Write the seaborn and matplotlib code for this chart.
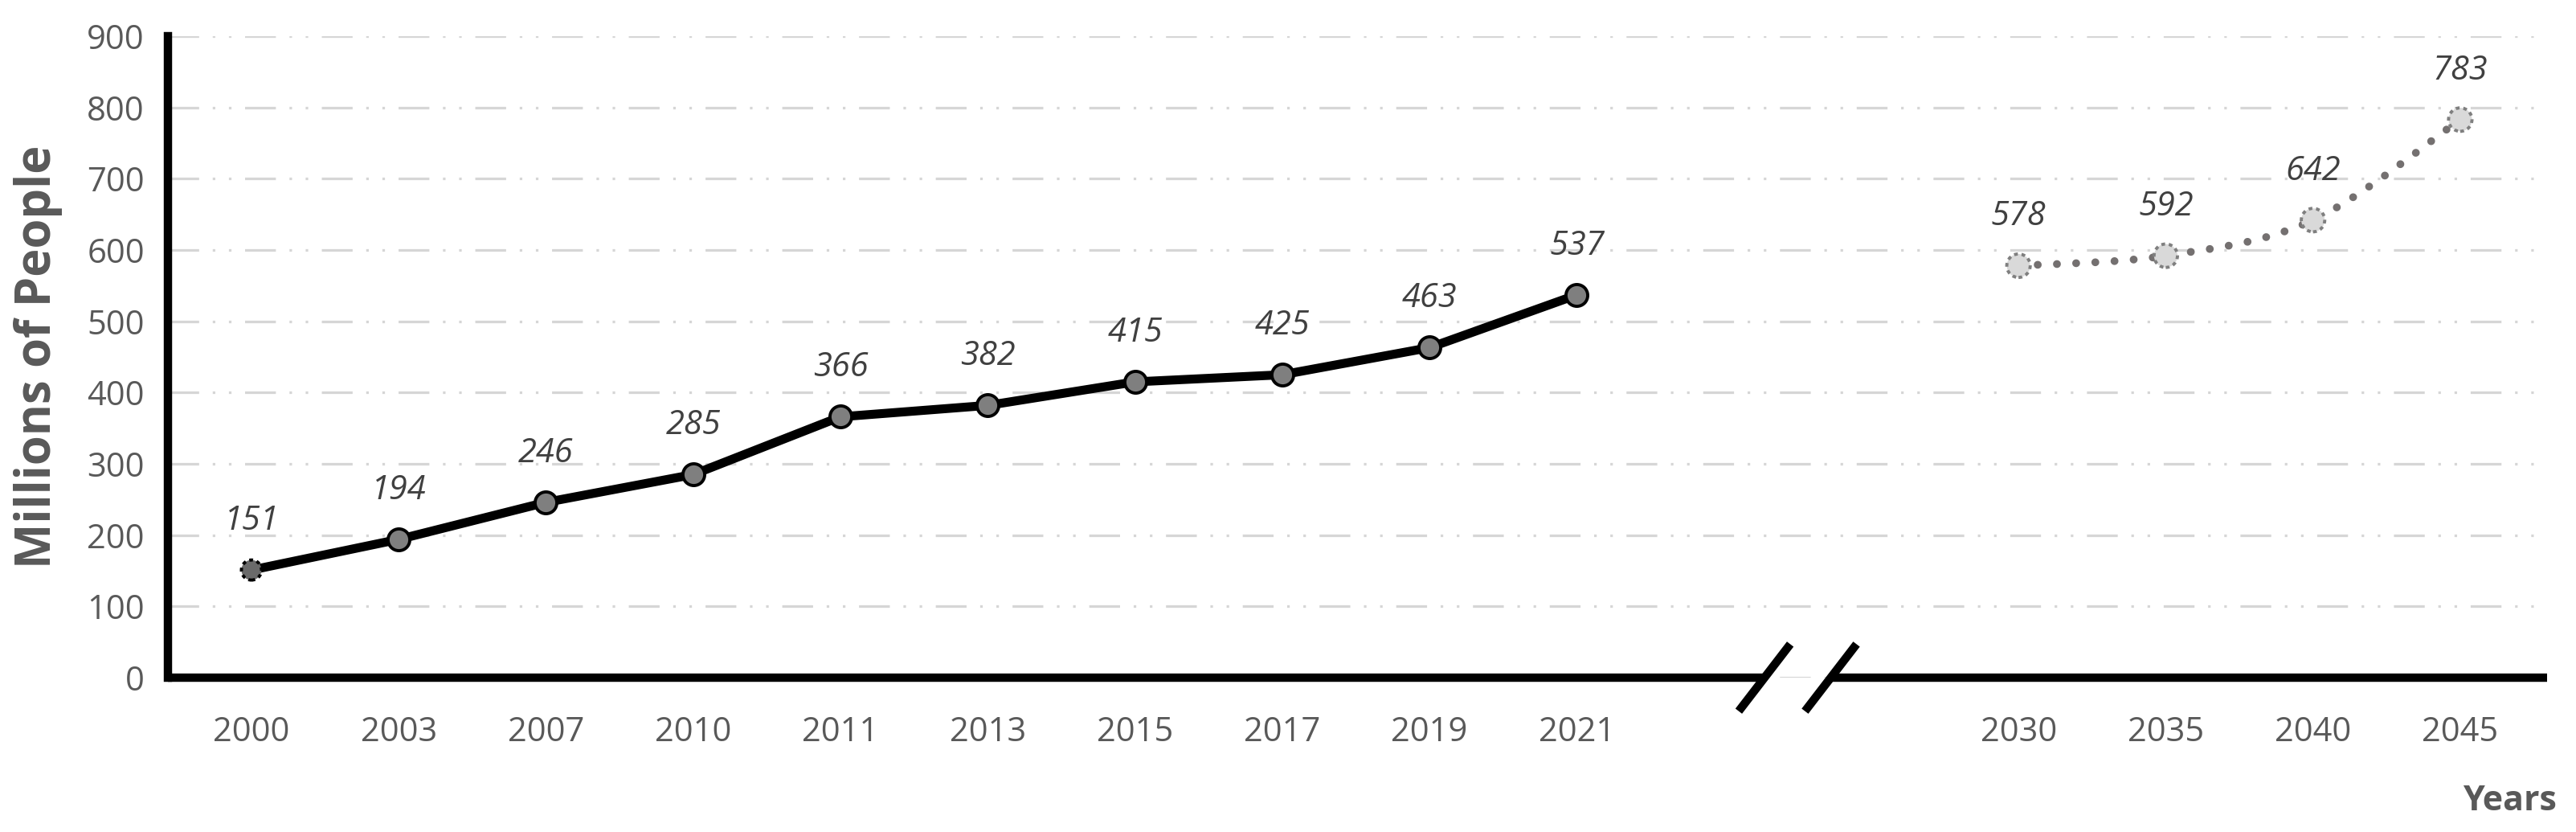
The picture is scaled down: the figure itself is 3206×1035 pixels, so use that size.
import numpy as np
import pandas as pd
import matplotlib
matplotlib.use("Agg")
import matplotlib.pyplot as plt
import seaborn as sns
from matplotlib.path import Path
from matplotlib.patches import PathPatch

# ---------------- data ----------------
hist_years = ["2000", "2003", "2007", "2010", "2011", "2013", "2015", "2017", "2019", "2021"]
hist_values = [151, 194, 246, 285, 366, 382, 415, 425, 463, 537]
fc_years = ["2030", "2035", "2040", "2045"]
fc_values = [578, 592, 642, 783]
y_ticks = [0, 100, 200, 300, 400, 500, 600, 700, 800, 900]
x_title = "Years"
y_title = "Millions of People"

# ---------------- style ----------------
sns.set_theme(style="white")
plt.rcParams['font.family'] = ['Open Sans', 'DejaVu Sans']

TICK_C = '#595959'
LABEL_C = '#404040'

hist_pos = np.arange(len(hist_years))
gap = 2
fc_pos = np.arange(len(fc_years)) + len(hist_years) + gap

hist_df = pd.DataFrame({"pos": hist_pos, "value": hist_values})
fc_df = pd.DataFrame({"pos": fc_pos, "value": fc_values})

fig = plt.figure(figsize=(32.06, 10.35), dpi=100)
ax = fig.add_axes([0.0652, 0.1855, 0.9236, 0.771])

x_left, x_right = -0.567, 15.59
ax.set_xlim(x_left, x_right)
ax.set_ylim(y_ticks[0], y_ticks[-1])

# grid
ax.set_yticks(y_ticks)
ax.yaxis.grid(True, color='#d6d6d6', linewidth=2.3,
              linestyle=(0, (12.0, 5.3, 1.0, 5.3, 1.0, 5.3)))
ax.xaxis.grid(False)
ax.set_axisbelow(True)

# spines
for s in ['top', 'right', 'bottom']:
    ax.spines[s].set_visible(False)
ax.spines['left'].set_color('black')
ax.spines['left'].set_linewidth(7.5)

# broken bottom axis
break_mid = (hist_pos[-1] + fc_pos[0]) / 2
off = 0.225
s1, s2 = break_mid - off, break_mid + off
ax.plot([x_left, s1], [0, 0], color='black', lw=7.5, clip_on=False,
        solid_capstyle='butt', zorder=6)
ax.plot([s2, x_right], [0, 0], color='black', lw=7.5, clip_on=False,
        solid_capstyle='butt', zorder=6)
for s in (s1, s2):
    ax.plot([s - 0.175, s + 0.175], [-47, 47], color='black', lw=7.5,
            clip_on=False, solid_capstyle='butt', zorder=6)

# historical line
sns.lineplot(data=hist_df, x="pos", y="value", ax=ax, color='black', lw=8,
             marker='o', markersize=19.5, markerfacecolor='#7f7f7f',
             markeredgecolor='black', markeredgewidth=2.8,
             markevery=list(range(1, len(hist_values))), sort=False, zorder=4)
ax.scatter([hist_pos[0]], [hist_values[0]], s=18 ** 2, facecolor='#6a6a6a',
           edgecolor='black', linewidths=2.8, linestyle=(0, (1.2, 1.2)), zorder=5)

# forecast smooth dotted line (Bezier through the data points)
pts = np.column_stack([fc_pos, fc_values]).astype(float)
ext = np.vstack([pts[0], pts, pts[-1]])
verts = [tuple(pts[0])]
codes = [Path.MOVETO]
for i in range(len(pts) - 1):
    p_prev, p0, p1, p_next = ext[i], ext[i + 1], ext[i + 2], ext[i + 3]
    c1 = p0 + (p1 - p_prev) / 6.0
    c2 = p1 - (p_next - p0) / 6.0
    verts += [tuple(c1), tuple(c2), tuple(p1)]
    codes += [Path.CURVE4] * 3
patch = PathPatch(Path(verts, codes), fill=False, edgecolor='#747070', lw=7,
                  linestyle=(0, (0.01, 2.45)), capstyle='round', zorder=3)
ax.add_patch(patch)

sns.scatterplot(data=fc_df, x="pos", y="value", ax=ax, s=21 ** 2,
                color='#d9d9d9', edgecolor='#7f7f7f', linewidth=2.8,
                linestyle=(0, (1.2, 1.2)), zorder=5, legend=False)

# data labels
for x, v in zip(list(hist_pos) + list(fc_pos), hist_values + fc_values):
    ax.annotate(str(v), (x, v), xytext=(0, 44), textcoords='offset points',
                ha='center', va='center', fontsize=30, style='italic',
                color=LABEL_C, zorder=7)

# ticks
ax.set_xticks(list(hist_pos) + list(fc_pos))
ax.set_xticklabels(hist_years + fc_years)
ax.tick_params(axis='x', length=0, pad=34, labelsize=30, labelcolor=TICK_C)
ax.tick_params(axis='y', length=0, pad=21, labelsize=30, labelcolor=TICK_C)
ax.set_xlabel("")
ax.set_ylabel("")

fig.text(48 / 3206, 1 - 444 / 1035, y_title, rotation=90, ha='center',
         va='center', fontsize=43, fontweight='bold', color=TICK_C)
fig.text(3182 / 3206, 1 - 996 / 1035, x_title, ha='right', va='center',
         fontsize=31, fontweight='bold', color=TICK_C)

fig.savefig("out.png", dpi=100)
